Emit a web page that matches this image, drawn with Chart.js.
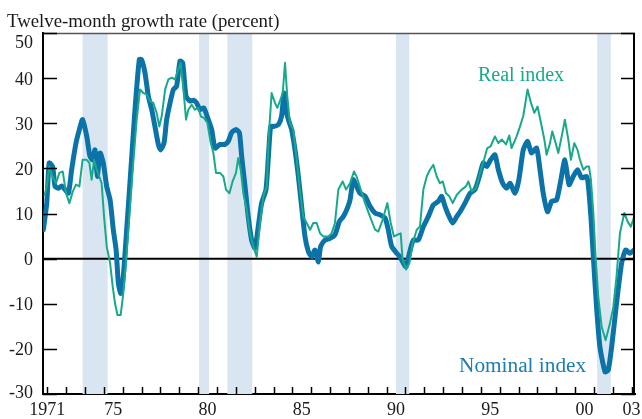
<!DOCTYPE html>
<html>
<head>
<meta charset="utf-8">
<script src="https://cdn.jsdelivr.net/npm/chart.js@4/dist/chart.umd.min.js"></script>
<style>
  html, body { margin: 0; padding: 0; background: #fff; }
  canvas { display: block; }
</style>
</head>
<body>
<canvas id="chart" width="642" height="419"></canvas>
<script>
// Twelve-month growth rates (decimal years)
const nominalX = [1971.79, 1971.97, 1972.1, 1972.28, 1972.41, 1972.59, 1972.76, 1972.94, 1973.12, 1973.29,
  1973.52, 1973.7, 1973.87, 1974.09, 1974.26, 1974.4, 1974.53, 1974.65, 1974.8, 1974.97,
  1975.15, 1975.33, 1975.5, 1975.65, 1975.77, 1975.9, 1976.03, 1976.21, 1976.42, 1976.65,
  1976.88, 1977.0, 1977.18, 1977.36, 1977.54, 1977.71, 1977.89, 1978.01, 1978.19, 1978.33,
  1978.51, 1978.69, 1978.86, 1979.04, 1979.18, 1979.36, 1979.57, 1979.75, 1979.92, 1980.1,
  1980.3, 1980.54, 1980.72, 1980.9, 1981.16, 1981.43, 1981.6, 1981.78, 1982.01, 1982.19,
  1982.31, 1982.49, 1982.66, 1982.84, 1983.02, 1983.19, 1983.37, 1983.6, 1983.73, 1983.85,
  1984.03, 1984.26, 1984.43, 1984.56, 1984.66, 1984.79, 1984.96, 1985.14, 1985.32, 1985.49,
  1985.67, 1985.85, 1986.02, 1986.2, 1986.38, 1986.5, 1986.73, 1987.0, 1987.26, 1987.49,
  1987.7, 1987.88, 1988.06, 1988.23, 1988.41, 1988.59, 1988.86, 1989.12, 1989.39, 1989.65,
  1989.92, 1990.09, 1990.27, 1990.54, 1990.71, 1990.89, 1991.03, 1991.21, 1991.42, 1991.68,
  1991.95, 1992.21, 1992.48, 1992.75, 1992.92, 1993.1, 1993.28, 1993.51, 1993.72, 1993.9,
  1994.16, 1994.43, 1994.69, 1994.92, 1995.13, 1995.31, 1995.52, 1995.75, 1995.93, 1996.16,
  1996.37, 1996.55, 1996.81, 1997.02, 1997.25, 1997.48, 1997.69, 1997.96, 1998.14, 1998.31,
  1998.54, 1998.76, 1999.02, 1999.25, 1999.46, 1999.68, 1999.9, 2000.13, 2000.35, 2000.61,
  2000.7, 2000.84, 2000.97, 2001.14, 2001.32, 2001.59, 2001.76, 2001.94, 2002.2, 2002.47,
  2002.68, 2002.91, 2003.14];
const nominalY = [6.4, 12.3, 21.2, 20.4, 16, 15.6, 16.1, 15.3, 14.5, 19.7,
  25.6, 28.6, 30.8, 27.1, 22.7, 21.9, 24.1, 18.2, 23.4, 21.2,
  16, 13, 6.4, 1.9, -5.5, -7.7, -4, 6.4, 19, 33,
  44.1, 44.1, 41.2, 36, 33, 29.3, 25.3, 24.1, 25.6, 30.8,
  34.5, 37.5, 38.2, 43.8, 43.4, 36, 34.9, 35.1, 34.5, 33,
  33.4, 30.8, 28.6, 24.5, 25.3, 25.3, 26, 27.9, 28.6, 27.9,
  22.7, 16, 9.3, 4.1, 2.3, 7.1, 12.3, 15.3, 22.7, 29.3,
  29.3, 29.7, 31.6, 36.7, 33, 30.8, 28.6, 24.1, 18.2, 11.6,
  4.9, 1.6, 0.4, 1.9, -0.7, 2.7, 4.1, 4.5, 5.3, 8.2,
  9.3, 10.8, 13, 17.5, 16, 14.5, 13.8, 11.6, 10.1, 9.7,
  9, 6.4, 2.7, 1.2, 0.4, -1, -1.8, 1.2, 4.1, 4.1,
  7.1, 9.3, 11.9, 12.7, 13.8, 11.6, 9.7, 7.9, 9.3, 10.4,
  12.3, 14.5, 15.3, 18.2, 21.2, 20.4, 21.9, 23, 19.7, 16.7,
  15.6, 16.7, 14.5, 17.5, 24.1, 26, 23.4, 24.5, 19.7, 14.5,
  10.4, 12.7, 13, 17.5, 21.9, 16.4, 18.2, 19.7, 17.9, 18.2,
  16.4, 9.3, 0.4, -10.7, -19.6, -25.1, -24.7, -19.6, -9.9, -1,
  1.9, 1.2, 1.9];

const realX = [1971.85, 1971.97, 1972.1, 1972.28, 1972.46, 1972.64, 1972.82, 1972.99, 1973.17, 1973.35,
  1973.52, 1973.7, 1973.87, 1974.09, 1974.23, 1974.35, 1974.48, 1974.62, 1974.76, 1974.88,
  1975.01, 1975.15, 1975.33, 1975.47, 1975.59, 1975.72, 1975.89, 1976.03, 1976.17, 1976.35,
  1976.53, 1976.74, 1976.92, 1977.09, 1977.27, 1977.45, 1977.62, 1977.8, 1977.94, 1978.07,
  1978.25, 1978.42, 1978.6, 1978.77, 1978.95, 1979.07, 1979.22, 1979.36, 1979.48, 1979.66,
  1979.83, 1980.0, 1980.15, 1980.31, 1980.49, 1980.67, 1980.81, 1980.95, 1981.16, 1981.34,
  1981.48, 1981.66, 1981.83, 1982.01, 1982.13, 1982.26, 1982.4, 1982.58, 1982.75, 1982.93,
  1983.11, 1983.28, 1983.46, 1983.64, 1983.76, 1983.9, 1984.08, 1984.2, 1984.34, 1984.49,
  1984.61, 1984.73, 1984.87, 1985.05, 1985.23, 1985.4, 1985.58, 1985.76, 1985.94, 1986.11,
  1986.29, 1986.47, 1986.64, 1986.91, 1987.08, 1987.26, 1987.44, 1987.67, 1987.85, 1988.06,
  1988.27, 1988.41, 1988.59, 1988.86, 1989.12, 1989.39, 1989.56, 1989.79, 1990.04, 1990.22,
  1990.39, 1990.57, 1990.75, 1990.85, 1991.03, 1991.21, 1991.38, 1991.6, 1991.77, 1991.95,
  1992.13, 1992.3, 1992.48, 1992.66, 1992.83, 1992.98, 1993.15, 1993.33, 1993.51, 1993.72,
  1993.98, 1994.21, 1994.34, 1994.51, 1994.74, 1994.96, 1995.17, 1995.34, 1995.52, 1995.75,
  1995.93, 1996.11, 1996.34, 1996.51, 1996.63, 1996.9, 1997.08, 1997.25, 1997.38, 1997.48,
  1997.66, 1997.84, 1998.01, 1998.19, 1998.37, 1998.49, 1998.67, 1998.79, 1998.97, 1999.11,
  1999.29, 1999.46, 1999.64, 1999.78, 1999.96, 2000.13, 2000.26, 2000.44, 2000.61, 2000.74,
  2000.84, 2000.97, 2001.09, 2001.23, 2001.41, 2001.62, 2001.85, 2002.03, 2002.2, 2002.38,
  2002.61, 2002.79, 2002.96, 2003.14];
const realY = [14, 16, 20.4, 18.2, 16.7, 19, 19.3, 14.5, 12.3, 14.9,
  16.4, 16, 21.9, 21.9, 21.2, 17.5, 21.9, 19.7, 18.2, 16.7,
  9.3, 2.7, -1, -6.2, -9.9, -12.5, -12.5, -7.7, -1, 9.3,
  19.7, 30.8, 37.5, 36.7, 36.4, 34.9, 34.5, 32.3, 29.3, 31.6,
  37.5, 39.7, 40.1, 39.7, 41.9, 43.4, 37.5, 30.8, 33, 34.1,
  33, 33.4, 31.5, 31.2, 30.1, 25.6, 23.4, 19, 19, 18.2,
  15.3, 14.5, 17.1, 19, 22.3, 19.7, 14.5, 10.8, 5.6, 2.7,
  0.4, 7.9, 13.8, 16, 27.9, 36.7, 34.5, 33.4, 34.9, 36.7,
  43.4, 36, 30.1, 28.6, 21.9, 15.3, 9.3, 7.9, 6.4, 7.9,
  7.9, 5.6, 4.9, 4.9, 5.6, 7.9, 15.3, 17.1, 15.3, 16.7,
  19.3, 18.2, 15.8, 12.3, 9.3, 6.4, 6, 8.6, 12.3, 7.9,
  4.9, 5.3, 5.6, -0.3, -2.4, -1, 3.4, 6.4, 7.1, 15.3,
  18.2, 19.7, 20.8, 18.2, 16.7, 17.1, 14.5, 13.8, 12.3, 14.1,
  15.3, 16, 17.1, 14.9, 15.6, 19, 21.9, 24.5, 24.9, 27.1,
  25.6, 26.4, 25.3, 27.3, 24.5, 27.1, 29.3, 31.6, 34.9, 37.5,
  34.5, 32.3, 33.7, 30.1, 26.4, 23, 25.6, 28.2, 25.6, 23.4,
  27.1, 30.8, 26.4, 21.9, 25.6, 24.1, 21.9, 19.7, 20.4, 20.4,
  17.5, 10.1, 0.4, -8.4, -15.1, -18.1, -14.4, -10.7, -4, 5.6,
  10.1, 8.2, 7.1, 9.3];

// Recessions (start, end)
const recessions = [[1973.87, 1975.2], [1980.05, 1980.58], [1981.55, 1982.87], [1990.5, 1991.2], [2001.17, 2001.9]];

// Axis labels
const yTicks = [-30, -20, -10, 0, 10, 20, 30, 40, 50];
const xLabels = ['1971', '75', '80', '85', '90', '95', '00', '03'];
const xLabelAt = [1972, 1975.5, 1980.5, 1985.5, 1990.5, 1995.5, 2000.5, 2003];
const xTickYears = Array.from({ length: 32 }, (_, i) => 1972 + i);

const SERIF = '"Liberation Serif", "DejaVu Serif", serif';
const BLUE = '#0b73a8';
const GREEN = '#18a98a';

function toPoints(xs, ys) {
  return xs.map((x, i) => ({ x: x, y: ys[i] }));
}

// Draws bands, zero line, inward ticks, frame and text
const framePlugin = {
  id: 'frame',
  beforeDatasetsDraw(chart) {
    const { ctx, chartArea: a, scales: { x, y } } = chart;
    ctx.save();
    ctx.fillStyle = '#d9e6f2';
    recessions.forEach(([s, e]) => {
      const x0 = x.getPixelForValue(s);
      const x1 = x.getPixelForValue(e);
      ctx.fillRect(x0, a.top, x1 - x0, a.bottom - a.top);
    });
    const y0 = y.getPixelForValue(0);
    ctx.strokeStyle = '#000';
    ctx.lineWidth = 2;
    ctx.beginPath();
    ctx.moveTo(a.left, y0);
    ctx.lineTo(a.right, y0);
    ctx.stroke();
    ctx.restore();
  },
  afterDraw(chart) {
    const { ctx, chartArea: a, scales: { x, y } } = chart;
    ctx.save();

    // top border (grey) and right axis
    ctx.strokeStyle = '#555';
    ctx.lineWidth = 1.5;
    ctx.beginPath();
    ctx.moveTo(a.left, a.top + 0.5);
    ctx.lineTo(a.right, a.top + 0.5);
    ctx.stroke();
    ctx.strokeStyle = '#000';
    ctx.lineWidth = 2;
    ctx.beginPath();
    ctx.moveTo(a.right - 1, a.top);
    ctx.lineTo(a.right - 1, a.bottom);
    ctx.stroke();

    // y ticks, both sides, pointing inwards
    ctx.lineWidth = 1.5;
    yTicks.forEach(v => {
      const py = Math.round(y.getPixelForValue(v)) + 0.5;
      ctx.beginPath();
      ctx.moveTo(a.left, py);
      ctx.lineTo(a.left + 14, py);
      ctx.moveTo(a.right - 14, py);
      ctx.lineTo(a.right, py);
      ctx.stroke();
    });

    // x ticks at each year
    xTickYears.forEach(v => {
      const px = Math.round(x.getPixelForValue(v)) + 0.5;
      ctx.beginPath();
      ctx.moveTo(px, a.bottom);
      ctx.lineTo(px, a.bottom - 7);
      ctx.stroke();
    });

    // tick labels
    ctx.fillStyle = '#1a1a1a';
    ctx.font = '18px ' + SERIF;
    ctx.textAlign = 'right';
    ctx.textBaseline = 'alphabetic';
    yTicks.forEach(v => {
      let py = y.getPixelForValue(v) + 6.5;
      if (v === 50) py += 8;
      if (v === -30) py -= 3;
      ctx.fillText(String(v), a.left - 10, py);
    });
    ctx.textAlign = 'center';
    xLabels.forEach((t, i) => {
      let px = x.getPixelForValue(xLabelAt[i]);
      if (i === xLabels.length - 1) px = Math.min(px, 642 - ctx.measureText(t).width / 2);
      ctx.fillText(t, px, a.bottom + 21);
    });

    // title
    ctx.textAlign = 'left';
    ctx.font = '18.8px ' + SERIF;
    ctx.fillText('Twelve-month growth rate (percent)', 7, 26.5);

    // series labels
    ctx.font = '20px ' + SERIF;
    ctx.fillStyle = GREEN;
    ctx.fillText('Real index', 478, 81);
    ctx.font = '21.3px ' + SERIF;
    ctx.fillStyle = '#1a7db3';
    ctx.fillText('Nominal index', 459, 372);

    ctx.restore();
  }
};

new Chart(document.getElementById('chart'), {
  type: 'line',
  data: {
    datasets: [
      {
        label: 'Real index',
        data: toPoints(realX, realY),
        borderColor: GREEN,
        borderWidth: 2,
        pointRadius: 0,
        tension: 0,
        borderJoinStyle: 'round'
      },
      {
        label: 'Nominal index',
        data: toPoints(nominalX, nominalY),
        borderColor: BLUE,
        borderWidth: 5,
        pointRadius: 0,
        tension: 0.2,
        borderJoinStyle: 'round',
        borderCapStyle: 'round'
      }
    ]
  },
  options: {
    responsive: false,
    animation: false,
    layout: { padding: { left: 43, right: 7, top: 33, bottom: 25 } },
    plugins: {
      legend: { display: false },
      tooltip: { enabled: false }
    },
    scales: {
      x: {
        type: 'linear',
        min: 1971.77,
        max: 2003.18,
        grid: { display: false, drawTicks: false },
        ticks: { display: false },
        border: { display: true, color: '#000', width: 2 }
      },
      y: {
        min: -30,
        max: 50,
        grid: { display: false, drawTicks: false },
        ticks: { display: false },
        border: { display: true, color: '#000', width: 2 }
      }
    }
  },
  plugins: [framePlugin]
});
</script>
</body>
</html>
